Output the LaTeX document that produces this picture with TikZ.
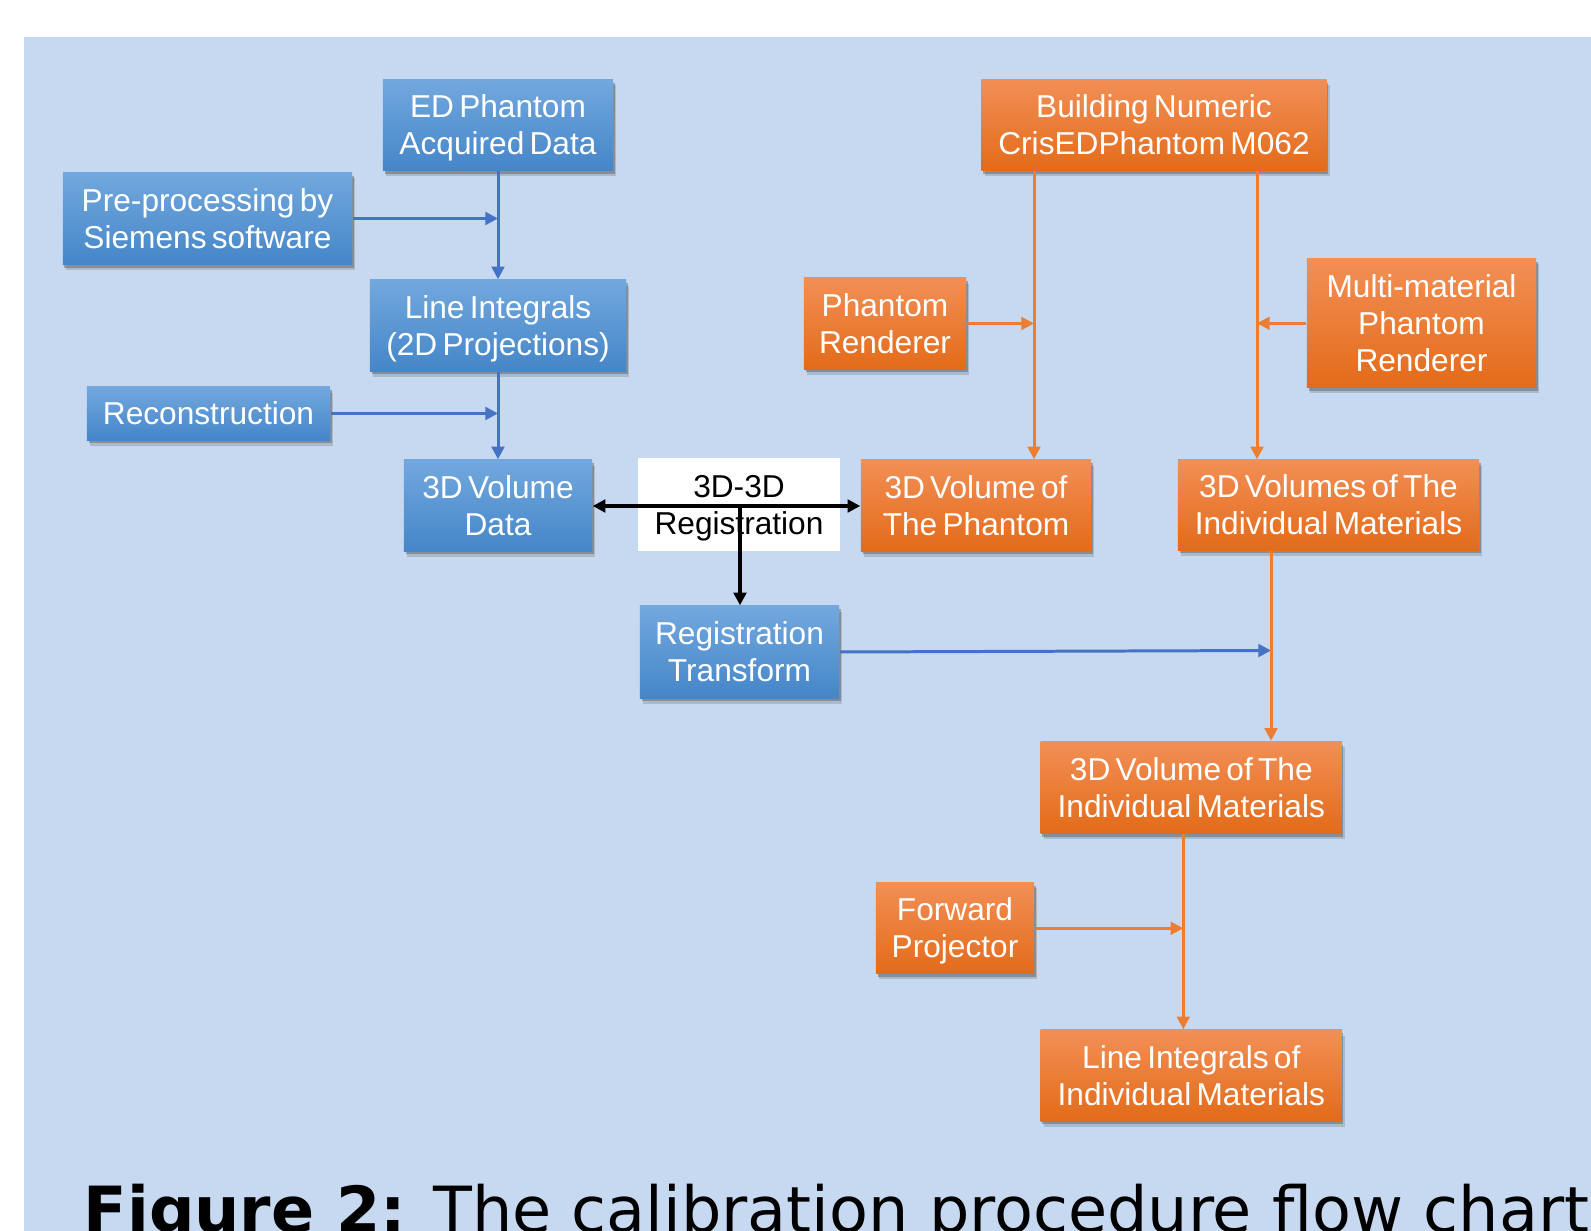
\documentclass[tikz,border=0pt]{standalone}
\usepackage{fontspec}
\setmainfont{Liberation Sans}[WordSpace=0.6]
\newfontfamily\capfont{DejaVu Sans}
\usetikzlibrary{arrows.meta,shadows}
\definecolor{bgblue}{HTML}{C6D9F0}
\definecolor{bTop}{HTML}{72A8DE}
\definecolor{bBot}{HTML}{4586C8}
\definecolor{oTop}{HTML}{F28F55}
\definecolor{oBot}{HTML}{E36B1A}
\definecolor{lblue}{HTML}{4472C4}
\definecolor{lorange}{HTML}{ED7D31}
\newcommand\topstrut{\rule{0pt}{8.3pt}}
\tikzset{
  boxbase/.style={rectangle, inner sep=0pt, text=white, align=center,
    font=\fontsize{9}{10.5}\selectfont,
    execute at end node={\rule[-2pt]{0pt}{2pt}},
    drop shadow={shadow xshift=0.9pt, shadow yshift=-1.6pt, opacity=0.22, fill=black!70},
    drop shadow={shadow xshift=0.45pt, shadow yshift=-0.9pt, opacity=0.4, fill=black!70}},
  bluebox/.style={boxbase, top color=bTop, bottom color=bBot},
  orangebox/.style={boxbase, top color=oTop, bottom color=oBot},
  headarrow/.style={-{Triangle[length=3.6pt,width=3.6pt]}},
  bline/.style={draw=lblue, line width=0.85pt, headarrow},
  oline/.style={draw=lorange, line width=0.85pt, headarrow},
  kline/.style={draw=black, line width=0.9pt},
}
\begin{document}
\begin{tikzpicture}[x=0.01cm,y=-0.01cm]
\clip (0,0) rectangle (1591,1231);
\useasboundingbox (0,0) rectangle (1591,1231);
\fill[white] (0,0) rectangle (1591,1231);
\fill[bgblue] (24,37) rectangle (1591,1231);

% blue boxes
\node[bluebox, minimum width=2.30cm, minimum height=0.91cm] (ed) at (498,125) {\topstrut ED Phantom\\Acquired Data};
\node[bluebox, minimum width=2.89cm, minimum height=0.92cm] (pre) at (207.5,218.5) {\topstrut Pre-processing by\\Siemens software};
\node[bluebox, minimum width=2.56cm, minimum height=0.91cm] (li) at (498,325.5) {\topstrut Line Integrals\\(2D Projections)};
\node[bluebox, minimum width=2.43cm, minimum height=0.53cm] (rec) at (208.5,413.5) {\topstrut Reconstruction};
\node[bluebox, minimum width=1.88cm, minimum height=0.91cm] (vol) at (498,505.5) {\topstrut 3D Volume\\Data};
\node[bluebox, minimum width=1.99cm, minimum height=0.92cm] (rt) at (739.5,652) {\topstrut Registration\\Transform};

% white registration box
\node[rectangle, fill=white, inner sep=0pt, minimum width=2.01cm, minimum height=0.93cm,
      align=center, font=\fontsize{9}{10.5}\selectfont,
      execute at end node={\rule[-2pt]{0pt}{2pt}}] (reg) at (739,504.5) {\topstrut 3D-3D\\Registration};

% orange boxes
\node[orangebox, minimum width=3.45cm, minimum height=0.91cm] (bn) at (1154,125) {\topstrut Building Numeric\\CrisEDPhantom M062};
\node[orangebox, minimum width=1.62cm, minimum height=0.91cm] (pr) at (885,323.5) {\topstrut Phantom\\Renderer};
\node[orangebox, minimum width=2.29cm, minimum height=1.29cm] (mm) at (1421.5,323.3) {\topstrut Multi-material\\Phantom\\Renderer};
\node[orangebox, minimum width=2.30cm, minimum height=0.91cm] (vp) at (976,505.5) {\topstrut 3D Volume of\\The Phantom};
\node[orangebox, minimum width=3.01cm, minimum height=0.90cm] (vi) at (1328.5,505) {\topstrut 3D Volumes of The\\Individual Materials};
\node[orangebox, minimum width=3.01cm, minimum height=0.92cm] (vim) at (1191.3,787.5) {\topstrut 3D Volume of The\\Individual Materials};
\node[orangebox, minimum width=1.58cm, minimum height=0.91cm] (fp) at (955,928.3) {\topstrut Forward\\Projector};
\node[orangebox, minimum width=3.01cm, minimum height=0.91cm] (lim) at (1191.3,1075.5) {\topstrut Line Integrals of\\Individual Materials};

% junction coordinates
\coordinate (j1) at (498,218.5);
\coordinate (j2) at (498,413.5);
\coordinate (cL) at (1034,323.5);
\coordinate (cR) at (1257,323.3);
\coordinate (cT) at (1271,650.5);
\coordinate (cF) at (1183.3,928.3);
\coordinate (cB) at (740,506);

% blue connectors
\draw[bline] (ed.south) -- (li.north);
\draw[bline] (pre.east) -- (j1);
\draw[bline] (li.south) -- (vol.north);
\draw[bline] (rec.east) -- (j2);
\draw[bline] (rt.east) -- (cT);

% orange connectors
\draw[oline] (bn.south -| cL) -- (vp.north -| cL);
\draw[oline] (pr.east) -- (cL);
\draw[oline] (bn.south -| cR) -- (vi.north -| cR);
\draw[oline] (mm.west) -- (cR);
\draw[oline] (vi.south -| cT) -- (vim.north -| cT);
\draw[oline] (vim.south -| cF) -- (lim.north -| cF);
\draw[oline] (fp.east) -- (cF);

% black connectors
\draw[kline, {Triangle[length=3.6pt,width=3.6pt]}-{Triangle[length=3.6pt,width=3.6pt]}] (vol.east |- cB) -- (vp.west |- cB);
\draw[kline, -{Triangle[length=3.6pt,width=3.6pt]}] (cB) -- (rt.north -| cB);

% caption
\node[anchor=base west, inner sep=0pt, font=\capfont\fontsize{18.1}{20}\selectfont] (cap) at (83,1232)
  {\textbf{Figure 2:} The calibration procedure flow chart};
\end{tikzpicture}
\end{document}
